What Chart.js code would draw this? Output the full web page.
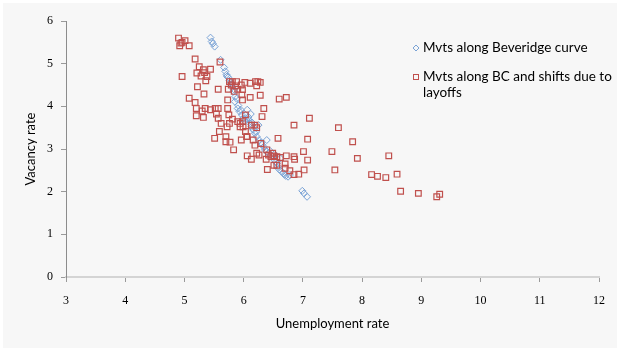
<!DOCTYPE html>
<html>
<head>
<meta charset="utf-8">
<script src="https://cdn.jsdelivr.net/npm/chart.js@4.4.1/dist/chart.umd.min.js"></script>
<style>
  html, body { margin: 0; padding: 0; background: #ffffff; }
  #wrap { width: 617px; height: 348px; position: relative; }
</style>
</head>
<body>
<div id="wrap"><canvas id="c" width="617" height="348"></canvas></div>
<script>
// Unemployment rate (x) vs vacancy rate (y)
const seriesNames = ['Mvts along Beveridge curve', 'Mvts along BC and shifts due to layoffs'];

const beveridgeX = [5.44,5.46,5.48,5.51,5.61,5.67,5.69,5.71,5.74,5.78,5.80,5.81,5.83,5.86,5.85,5.88,5.90,5.93,5.97,5.99,6.03,6.06,6.09,6.11,6.13,6.16,6.19,6.22,6.26,6.25,6.39,6.34,6.36,6.39,6.42,6.46,6.49,6.52,6.56,6.58,6.60,6.64,6.67,6.71,6.75,6.78,6.99,7.02,7.07,6.08,6.12,5.95,6.01,6.29,6.45,6.62,6.52,5.83,5.76,5.72,5.79,5.91,6.04,6.14,6.21,6.31,6.55,6.69];
const beveridgeY = [5.61,5.52,5.47,5.40,5.09,4.91,4.82,4.74,4.68,4.56,4.50,4.45,4.35,4.23,4.11,4.18,3.95,3.88,3.80,3.72,3.80,3.92,3.68,3.60,3.52,3.45,3.37,3.29,3.21,3.56,3.21,3.05,2.98,2.94,2.90,2.86,2.82,2.74,2.66,2.58,2.52,2.47,2.43,2.37,2.35,2.39,2.02,1.96,1.88,3.75,3.82,3.92,3.66,3.15,2.95,2.78,2.88,4.40,4.60,4.70,4.52,4.02,3.70,3.62,3.40,3.10,2.70,2.40];

const layoffsX = [4.90,4.92,4.94,4.96,5.01,5.08,4.96,5.08,5.18,5.25,5.21,5.32,5.34,5.28,5.38,5.36,5.44,5.22,5.33,5.18,5.20,5.20,5.32,5.30,5.35,5.44,5.52,5.57,5.54,5.57,5.57,5.60,5.62,5.51,5.59,5.70,5.70,5.77,5.83,5.72,5.76,5.81,5.75,5.73,5.73,5.74,5.76,5.81,5.86,5.88,5.84,5.79,5.90,5.96,5.98,5.97,5.98,6.02,6.11,6.20,6.24,6.28,6.22,6.11,6.28,6.34,6.31,6.03,5.99,5.94,5.90,5.98,5.94,6.03,6.05,6.06,5.96,6.13,6.19,6.22,6.16,6.19,6.29,6.22,6.06,6.13,6.26,6.39,6.42,6.46,6.49,6.51,6.40,6.38,6.56,6.51,6.56,6.58,6.60,6.72,6.62,6.70,6.72,6.70,6.78,6.85,6.93,6.85,6.86,6.85,7.02,7.01,7.08,7.08,7.11,7.49,7.54,7.60,7.84,7.92,8.16,8.26,8.40,8.45,8.59,8.65,8.95,9.26,9.31];
const layoffsY = [5.60,5.42,5.48,5.50,5.54,5.42,4.70,4.19,5.11,4.93,4.78,4.86,4.79,4.71,4.70,4.60,4.87,4.46,4.29,4.09,3.95,3.78,3.74,3.89,3.95,3.92,3.95,3.95,3.82,3.72,4.40,5.04,3.60,3.25,3.41,3.29,3.17,3.16,2.98,3.52,3.60,3.70,3.80,3.95,4.15,4.40,4.58,4.58,4.48,4.58,4.35,4.50,4.40,4.50,4.39,4.27,4.15,4.56,4.54,4.58,4.58,4.56,4.48,4.21,4.26,3.95,3.76,3.80,3.52,3.60,3.64,3.64,3.52,3.41,3.29,3.29,3.21,3.56,3.56,3.50,3.21,3.09,3.13,2.90,2.84,2.76,2.86,2.98,2.86,2.82,2.90,2.84,2.52,2.76,2.82,2.62,2.62,3.25,4.17,4.21,2.80,2.65,2.84,2.55,2.49,2.40,2.41,2.82,2.76,3.56,2.51,2.94,2.74,3.23,3.72,2.94,2.51,3.50,3.17,2.78,2.40,2.36,2.33,2.84,2.41,2.01,1.96,1.88,1.94];

const xTicks = [3,4,5,6,7,8,9,10,11,12];
const yTicks = [0,1,2,3,4,5,6];

const BLUE = '#7aa3d6';
const RED = '#c0504d';

function toPoints(xs, ys) {
  return xs.map((x, i) => ({ x: x, y: ys[i] }));
}

// Page background: thin white margin, light grey panel
const panelBg = {
  id: 'panelBg',
  beforeDraw(chart) {
    const ctx = chart.ctx;
    ctx.save();
    ctx.fillStyle = '#ffffff';
    ctx.fillRect(0, 0, chart.width, chart.height);
    ctx.fillStyle = '#f7f7f7';
    ctx.fillRect(3, 3, chart.width - 3, chart.height - 3);
    ctx.restore();
  }
};

// Legend at the right of the plot, with wrapped second entry
const sideLegend = {
  id: 'sideLegend',
  afterDraw(chart) {
    const ctx = chart.ctx;
    ctx.save();
    ctx.font = '13.5px Lato';
    ctx.fillStyle = '#000000';
    ctx.textBaseline = 'middle';
    ctx.textAlign = 'left';
    const mx = 416, tx = 423;
    // diamond marker
    ctx.strokeStyle = BLUE; ctx.lineWidth = 1;
    ctx.beginPath();
    ctx.moveTo(mx, 48 - 3); ctx.lineTo(mx + 3, 48); ctx.lineTo(mx, 48 + 3); ctx.lineTo(mx - 3, 48); ctx.closePath();
    ctx.stroke();
    ctx.fillText(seriesNames[0], tx, 48);
    // square marker
    ctx.strokeStyle = RED;
    ctx.strokeRect(mx - 2.5, 77 - 2.5, 5, 5);
    ctx.fillText('Mvts along BC and shifts due to', tx, 77);
    ctx.fillText('layoffs', tx, 93);
    ctx.restore();
  }
};

new Chart(document.getElementById('c'), {
  type: 'scatter',
  data: {
    datasets: [
      {
        label: seriesNames[0],
        data: toPoints(beveridgeX, beveridgeY),
        pointStyle: 'rectRot',
        pointRadius: 3.5,
        pointBorderWidth: 1,
        borderColor: BLUE,
        backgroundColor: 'rgba(0,0,0,0)',
        order: 1
      },
      {
        label: seriesNames[1],
        data: toPoints(layoffsX, layoffsY),
        pointStyle: 'rect',
        pointRadius: 4,
        pointBorderWidth: 1.2,
        borderColor: RED,
        backgroundColor: 'rgba(0,0,0,0)',
        order: 0
      }
    ]
  },
  options: {
    responsive: false,
    animation: false,
    events: [],
    layout: { padding: { left: 0, right: 17, top: 21, bottom: 0 } },
    plugins: { legend: { display: false }, tooltip: { enabled: false } },
    scales: {
      x: {
        type: 'linear',
        min: 3, max: 12,
        afterBuildTicks(scale) { scale.ticks = xTicks.map(v => ({ value: v })); },
        afterFit(scale) { scale.height = 71; },
        grid: { drawOnChartArea: false, drawTicks: true, tickLength: 5, color: '#9a9a9a' },
        border: { color: '#d4d4d4', width: 2 },
        ticks: { padding: 12, color: '#000', font: { family: 'Liberation Serif', size: 12 } },
        title: { display: true, text: 'Unemployment rate', color: '#000', font: { family: 'Lato', size: 13 }, padding: { top: 0, bottom: 16 } }
      },
      y: {
        type: 'linear',
        min: 0, max: 6,
        afterBuildTicks(scale) { scale.ticks = yTicks.map(v => ({ value: v })); },
        afterFit(scale) { scale.width = 66; },
        grid: { drawOnChartArea: false, drawTicks: true, tickLength: 5, color: '#9a9a9a' },
        border: { color: '#8c8c8c', width: 1 },
        ticks: { padding: 8, color: '#000', font: { family: 'Liberation Serif', size: 12 } },
        title: { display: true, text: 'Vacancy rate', color: '#000', font: { family: 'Lato', size: 13 }, padding: { top: 23, bottom: 0 } }
      }
    }
  },
  plugins: [panelBg, sideLegend]
});
</script>
</body>
</html>
